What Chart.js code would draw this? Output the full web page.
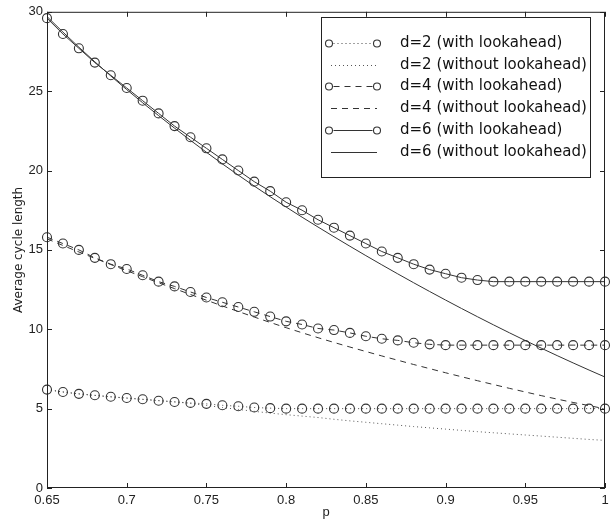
<!DOCTYPE html>
<html lang="en">
<head>
    <meta charset="UTF-8">
    <title>Average cycle length</title>
    <script src="https://cdn.jsdelivr.net/npm/chart.js"></script>
    <style>
        body { margin: 0; background: #fff; }
    </style>
</head>
<body>

<canvas id="grafico_ciclo" width="616" height="527"></canvas>

<script>

    // valores de p (eixo x)
    const pValues = [0.65, 0.66, 0.67, 0.68, 0.69, 0.70, 0.71, 0.72, 0.73, 0.74, 0.75, 0.76,
                     0.77, 0.78, 0.79, 0.80, 0.81, 0.82, 0.83, 0.84, 0.85, 0.86, 0.87, 0.88,
                     0.89, 0.90, 0.91, 0.92, 0.93, 0.94, 0.95, 0.96, 0.97, 0.98, 0.99, 1.00];

    const d2With = [6.2, 6.05, 5.93, 5.84, 5.75, 5.67, 5.59, 5.5, 5.42, 5.36, 5.3, 5.21,
                    5.15, 5.07, 5.03, 5.0, 5.0, 5.0, 5.0, 5.0, 5.0, 5.0, 5.0, 5.0,
                    5.0, 5.0, 5.0, 5.0, 5.0, 5.0, 5.0, 5.0, 5.0, 5.0, 5.0, 5.0];
    const d2Without = [6.2, 6.05, 5.93, 5.83, 5.74, 5.66, 5.58, 5.51, 5.43, 5.32, 5.2, 5.07,
                       4.95, 4.83, 4.72, 4.62, 4.53, 4.44, 4.33, 4.23, 4.14, 4.05, 3.96, 3.87,
                       3.79, 3.71, 3.63, 3.55, 3.48, 3.41, 3.34, 3.27, 3.2, 3.13, 3.06, 3.0];
    const d4With = [15.8, 15.4, 15.0, 14.5, 14.1, 13.8, 13.4, 13.0, 12.7, 12.35, 12.0, 11.7,
                    11.4, 11.1, 10.8, 10.5, 10.3, 10.05, 9.95, 9.77, 9.56, 9.4, 9.3, 9.15,
                    9.05, 9.0, 9.0, 9.0, 9.0, 9.0, 9.0, 9.0, 9.0, 9.0, 9.0, 9.0];
    const d4Without = [15.7, 15.28, 14.87, 14.47, 14.08, 13.69, 13.31, 12.93, 12.56, 12.19, 11.83, 11.47,
                       11.12, 10.77, 10.43, 10.1, 9.78, 9.47, 9.17, 8.88, 8.6, 8.32, 8.05, 7.78,
                       7.52, 7.26, 7.01, 6.76, 6.52, 6.28, 6.05, 5.82, 5.6, 5.39, 5.19, 4.99];
    const d6With = [29.6, 28.6, 27.7, 26.8, 26.0, 25.2, 24.4, 23.6, 22.8, 22.1, 21.4, 20.7,
                    20.0, 19.3, 18.7, 18.0, 17.5, 16.9, 16.4, 15.9, 15.4, 14.9, 14.5, 14.1,
                    13.76, 13.5, 13.25, 13.1, 13.0, 13.0, 13.0, 13.0, 13.0, 13.0, 13.0, 13.0];
    const d6Without = [29.7, 28.72, 27.77, 26.85, 25.96, 25.1, 24.27, 23.46, 22.67, 21.9, 21.15, 20.42,
                       19.71, 19.02, 18.35, 17.7, 17.06, 16.44, 15.83, 15.23, 14.64, 14.06, 13.49, 12.93,
                       12.38, 11.84, 11.31, 10.79, 10.28, 9.78, 9.29, 8.81, 8.34, 7.88, 7.43, 6.99];

    const nomesSeries = ['d=2 (with lookahead)', 'd=2 (without lookahead)',
                         'd=4 (with lookahead)', 'd=4 (without lookahead)',
                         'd=6 (with lookahead)', 'd=6 (without lookahead)'];

    const xTickValues = [0.65, 0.7, 0.75, 0.8, 0.85, 0.9, 0.95, 1];
    const xTickLabels = ['0.65', '0.7', '0.75', '0.8', '0.85', '0.9', '0.95', '1'];
    const yTickValues = [0, 5, 10, 15, 20, 25, 30];

    const corLinha = '#333';
    const pontilhado = [1, 3];
    const tracejado = [6, 5];

    function montarPontos(valores) {
        return pValues.map((p, i) => ({ x: p, y: valores[i] }));
    }

    function serie(nome, valores, dash, comMarcador, cor) {
        return {
            label: nome,
            data: montarPontos(valores),
            borderColor: cor,
            borderWidth: 1,
            borderDash: dash,
            pointRadius: comMarcador ? 4.5 : 0,
            pointStyle: 'circle',
            pointBorderColor: '#333',
            pointBorderWidth: 1.1,
            pointBackgroundColor: 'rgba(0,0,0,0)',
            cubicInterpolationMode: comMarcador ? 'default' : 'monotone',
            tension: 0,
            fill: false,
            clip: false
        };
    }

    // moldura com ticks para dentro (estilo matlab)
    const molduraPlugin = {
        id: 'moldura',
        afterDatasetsDraw(chart) {
            const { ctx, chartArea, scales } = chart;
            const tam = 5;
            ctx.save();
            ctx.strokeStyle = '#222';
            ctx.lineWidth = 1;
            ctx.setLineDash([]);
            ctx.strokeRect(chartArea.left + 0.5, chartArea.top + 0.5,
                           chartArea.right - chartArea.left - 1, chartArea.bottom - chartArea.top - 1);
            ctx.beginPath();
            xTickValues.forEach(v => {
                const x = Math.round(scales.x.getPixelForValue(v)) + 0.5;
                ctx.moveTo(x, chartArea.bottom);
                ctx.lineTo(x, chartArea.bottom - tam);
                ctx.moveTo(x, chartArea.top);
                ctx.lineTo(x, chartArea.top + tam);
            });
            yTickValues.forEach(v => {
                const y = Math.round(scales.y.getPixelForValue(v)) + 0.5;
                ctx.moveTo(chartArea.left, y);
                ctx.lineTo(chartArea.left + tam, y);
                ctx.moveTo(chartArea.right, y);
                ctx.lineTo(chartArea.right - tam, y);
            });
            ctx.stroke();
            ctx.restore();
        }
    };

    // legenda em caixa no canto superior direito
    const legendaPlugin = {
        id: 'legendaCaixa',
        afterDraw(chart) {
            const ctx = chart.ctx;
            const caixa = { x: 321, y: 17, w: 269, h: 160 };
            ctx.save();
            ctx.fillStyle = '#fff';
            ctx.fillRect(caixa.x, caixa.y, caixa.w, caixa.h);
            ctx.strokeStyle = '#222';
            ctx.lineWidth = 1;
            ctx.setLineDash([]);
            ctx.strokeRect(caixa.x + 0.5, caixa.y + 0.5, caixa.w, caixa.h);

            chart.data.datasets.forEach((ds, i) => {
                const y = Math.round(43 + i * 21.7) + 0.5;
                const x1 = 329, x2 = 377;
                ctx.strokeStyle = ds.borderColor;
                ctx.lineWidth = ds.borderWidth;
                ctx.setLineDash(ds.borderDash || []);
                ctx.beginPath();
                if (ds.pointRadius > 0) {
                    ctx.moveTo(x1 + 4.5, y);
                    ctx.lineTo(x2 - 4.5, y);
                } else {
                    ctx.moveTo(x1 + 2, y);
                    ctx.lineTo(x2, y);
                }
                ctx.stroke();
                ctx.setLineDash([]);
                if (ds.pointRadius > 0) {
                    ctx.strokeStyle = ds.pointBorderColor;
                    ctx.lineWidth = ds.pointBorderWidth;
                    [x1, x2].forEach(cx => {
                        ctx.beginPath();
                        ctx.arc(cx, y, 3.5, 0, Math.PI * 2);
                        ctx.stroke();
                    });
                }
                ctx.fillStyle = '#111';
                ctx.font = '15px "DejaVu Sans"';
                ctx.textAlign = 'left';
                ctx.textBaseline = 'middle';
                ctx.fillText(ds.label, 400, y);
            });
            ctx.restore();
        }
    };

    const grafico = document.getElementById('grafico_ciclo');

    new Chart(grafico, {
        type: 'line',
        data: {
            datasets: [
                serie(nomesSeries[0], d2With, pontilhado, true, '#444'),
                serie(nomesSeries[1], d2Without, pontilhado, false, '#555'),
                serie(nomesSeries[2], d4With, tracejado, true, corLinha),
                serie(nomesSeries[3], d4Without, tracejado, false, corLinha),
                serie(nomesSeries[4], d6With, [], true, corLinha),
                serie(nomesSeries[5], d6Without, [], false, corLinha)
            ]
        },
        options: {
            responsive: false,
            animation: false,
            devicePixelRatio: 1,
            layout: { padding: { top: 7, right: 11, left: 0, bottom: 0 } },
            plugins: {
                legend: { display: false },
                tooltip: { enabled: false }
            },
            scales: {
                x: {
                    type: 'linear',
                    min: 0.65,
                    max: 1,
                    afterBuildTicks(scale) {
                        scale.ticks = xTickValues.map(v => ({ value: v }));
                    },
                    afterFit(scale) { scale.height = 39; },
                    grid: { display: false, drawTicks: false },
                    border: { display: false },
                    ticks: {
                        padding: 5,
                        color: '#222',
                        font: { family: '"Liberation Sans", Arial', size: 13 },
                        maxRotation: 0,
                        autoSkip: false,
                        callback: (value, index) => xTickLabels[index]
                    },
                    title: {
                        display: true,
                        text: 'p',
                        color: '#222',
                        font: { family: '"Liberation Sans", Arial', size: 13 },
                        padding: { top: 0, bottom: 7 }
                    }
                },
                y: {
                    min: 0,
                    max: 30,
                    afterBuildTicks(scale) {
                        scale.ticks = yTickValues.map(v => ({ value: v }));
                    },
                    afterFit(scale) { scale.width = 47; },
                    grid: { display: false, drawTicks: false },
                    border: { display: false },
                    ticks: {
                        padding: 4,
                        color: '#222',
                        font: { family: '"Liberation Sans", Arial', size: 13 }
                    },
                    title: {
                        display: true,
                        text: 'Average cycle length',
                        color: '#222',
                        font: { family: '"DejaVu Sans"', size: 12 },
                        padding: { top: 12, bottom: 0 }
                    }
                }
            }
        },
        plugins: [molduraPlugin, legendaPlugin]
    });

</script>
</body>
</html>
